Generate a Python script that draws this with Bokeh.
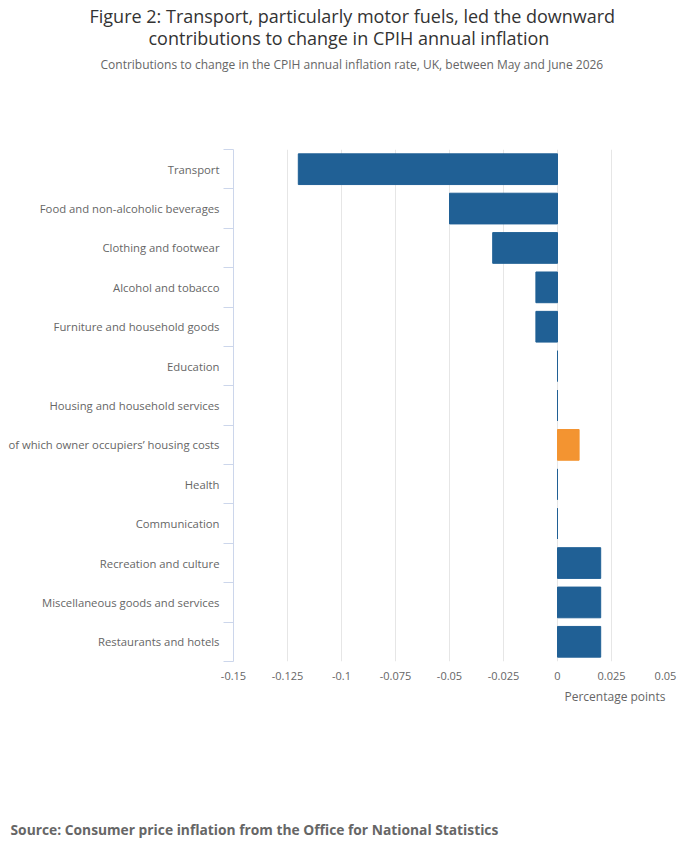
from bokeh.plotting import figure
from bokeh.models import ColumnDataSource, Range1d, FixedTicker, LinearAxis, NumeralTickFormatter, Title
from bokeh.embed import file_html
from bokeh.resources import INLINE

categories = [
    "Transport",
    "Food and non-alcoholic beverages",
    "Clothing and footwear",
    "Alcohol and tobacco",
    "Furniture and household goods",
    "Education",
    "Housing and household services",
    "of which owner occupiers\u2019 housing costs",
    "Health",
    "Communication",
    "Recreation and culture",
    "Miscellaneous goods and services",
    "Restaurants and hotels",
]
contributions = [-0.12, -0.05, -0.03, -0.01, -0.01, 0.0, 0.0, 0.01, 0.0, 0.0, 0.02, 0.02, 0.02]
highlight = "of which owner occupiers\u2019 housing costs"
x_ticks = [-0.15, -0.125, -0.1, -0.075, -0.05, -0.025, 0, 0.025, 0.05]

BLUE = "#206095"
ORANGE = "#F39431"
FONT = "Open Sans"

positions = list(range(len(categories)))
colors = [ORANGE if c == highlight else BLUE for c in categories]
source = ColumnDataSource(dict(y=positions, value=contributions, color=colors, name=categories))

p = figure(frame_width=432, frame_height=512, output_backend="svg", toolbar_location=None,
           x_range=Range1d(-0.15, 0.05), y_range=Range1d(len(categories) - 0.5, -0.5),
           x_axis_location=None, y_axis_location=None, title=None,
           min_border_left=233, min_border_right=33, min_border_top=0, min_border_bottom=0)
p.outline_line_color = None
p.background_fill_color = "white"
p.border_fill_color = "white"

p.hbar(y="y", left=0, right="value", height=0.78, source=source,
       fill_color="color", line_color="color", line_width=1)

# x axis: labels only
xaxis = LinearAxis(ticker=FixedTicker(ticks=x_ticks),
                   formatter=NumeralTickFormatter(format="0.[000]"))
xaxis.axis_line_color = None
xaxis.major_tick_line_color = None
xaxis.minor_tick_line_color = None
xaxis.major_tick_out = 0
xaxis.major_label_standoff = 10
xaxis.major_label_text_font = FONT
xaxis.major_label_text_font_size = "11px"
xaxis.major_label_text_color = "#666666"
p.add_layout(xaxis, "below")

# y axis: category names at band centres, ticks at band boundaries
boundaries = [i - 0.5 for i in range(len(categories) + 1)]
yaxis = LinearAxis(ticker=FixedTicker(ticks=positions, minor_ticks=boundaries))
yaxis.major_label_overrides = {i: c for i, c in zip(positions, categories)}
yaxis.axis_line_color = "#ccd6eb"
yaxis.major_tick_line_color = None
yaxis.major_tick_out = 0
yaxis.major_tick_in = 0
yaxis.minor_tick_line_color = "#ccd6eb"
yaxis.minor_tick_out = 10
yaxis.minor_tick_in = 0
yaxis.major_label_standoff = 4
yaxis.major_label_text_font = FONT
yaxis.major_label_text_font_size = "11.3px"
yaxis.major_label_text_color = "#666666"
p.add_layout(yaxis, "left")

p.xgrid.ticker = FixedTicker(ticks=x_ticks)
p.xgrid.grid_line_color = "#e6e6e6"
p.ygrid.grid_line_color = None


def add_title(text, place, size, color, offset, standoff, style="normal"):
    p.add_layout(Title(text=text, align="left", offset=offset, standoff=standoff, text_font=FONT,
                       text_font_size=size, text_color=color, text_font_style=style), place)


# above: the first one added sits nearest the frame; blank one keeps the gap
add_title(" ", "above", "12px", "white", 0, 48)
add_title("Contributions to change in the CPIH annual inflation rate, UK, between May and June 2026",
          "above", "12px", "#666666", -133, 19)
add_title("contributions to change in CPIH annual inflation", "above", "18px", "#333333", -85, -11)
add_title("Figure 2: Transport, particularly motor fuels, led the downward", "above", "18px", "#333333",
          -144, 3)

# below
add_title("Percentage points", "below", "12px", "#666666", 331, 6)
add_title("Source: Consumer price inflation from the Office for National Statistics", "below", "13.8px",
          "#666666", -223, 220, style="bold")

open("out.html", "w").write(file_html(p, INLINE))
